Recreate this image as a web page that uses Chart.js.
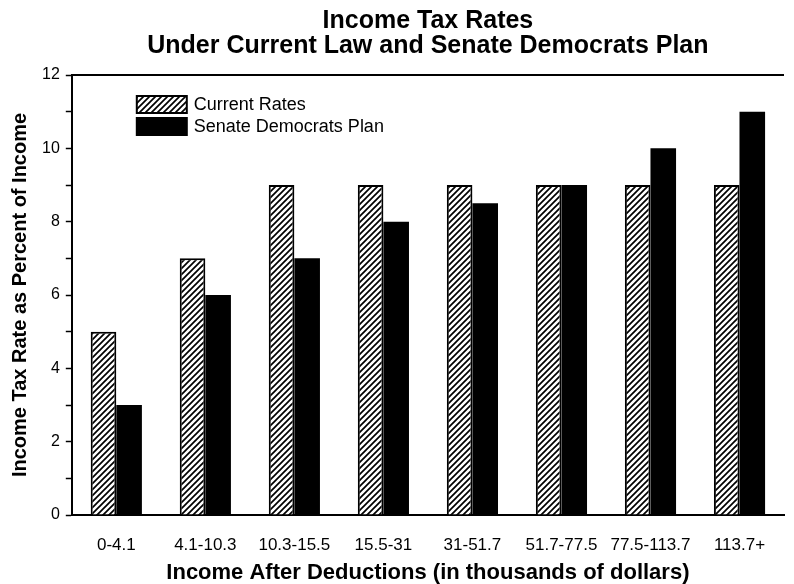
<!DOCTYPE html>
<html>
<head>
<meta charset="utf-8">
<script src="https://cdn.jsdelivr.net/npm/chart.js@4/dist/chart.umd.min.js"></script>
<style>
  html, body { margin: 0; padding: 0; background: #fff; }
  #wrap { width: 794px; height: 584px; }
</style>
</head>
<body>
<div id="wrap"><canvas id="taxChart" width="794" height="584"></canvas></div>
<script>
const brackets = ["0-4.1", "4.1-10.3", "10.3-15.5", "15.5-31", "31-51.7", "51.7-77.5", "77.5-113.7", "113.7+"];
const currentRates = [5, 7, 9, 9, 9, 9, 9, 9];
const senatePlan = [3, 6, 7, 8, 8.5, 9, 10, 11];
const yTicks = [0, 2, 4, 6, 8, 10, 12];

const FONT = "'Liberation Sans', Arial, Helvetica, sans-serif";
Chart.defaults.font.family = FONT;
Chart.defaults.color = "#000";

// diagonal hatch used for the "current rates" bars
function makeHatch() {
  const c = document.createElement("canvas");
  c.width = 6; c.height = 6;
  const g = c.getContext("2d");
  g.fillStyle = "#fff";
  g.fillRect(0, 0, 6, 6);
  g.strokeStyle = "#000";
  g.lineWidth = 1.7;
  g.beginPath();
  g.moveTo(-1, 7); g.lineTo(7, -1);
  g.moveTo(-4, 4); g.lineTo(4, -4);
  g.moveTo(2, 10); g.lineTo(10, 2);
  g.stroke();
  return g.createPattern(c, "repeat");
}
const hatch = makeHatch();

// legend box drawn inside the plot, plus the top frame line
const insideLegend = {
  id: "insideLegend",
  afterDraw(chart) {
    const { ctx, chartArea } = chart;
    ctx.save();
    ctx.strokeStyle = "#000";
    ctx.lineWidth = 2;
    ctx.beginPath();
    ctx.moveTo(chartArea.left, chartArea.top);
    ctx.lineTo(chartArea.right, chartArea.top);
    ctx.stroke();

    const x = chartArea.left + 65;
    let y = chartArea.top + 21;
    chart.data.datasets.forEach(function (ds) {
      ctx.fillStyle = ds.backgroundColor;
      ctx.fillRect(x, y, 50, 17);
      ctx.lineWidth = 2;
      ctx.strokeStyle = "#000";
      ctx.strokeRect(x, y, 50, 17);
      ctx.fillStyle = "#000";
      ctx.font = "18px " + FONT;
      ctx.textBaseline = "middle";
      ctx.fillText(ds.label, x + 57, y + 9);
      y += 22;
    });
    ctx.restore();
  }
};

new Chart(document.getElementById("taxChart"), {
  type: "bar",
  data: {
    labels: brackets,
    datasets: [
      {
        label: "Current Rates",
        data: currentRates,
        backgroundColor: hatch,
        borderColor: "#000",
        borderWidth: 2,
        borderSkipped: "bottom"
      },
      {
        label: "Senate Democrats Plan",
        data: senatePlan,
        backgroundColor: "#000",
        borderColor: "#000",
        borderWidth: 0
      }
    ]
  },
  options: {
    responsive: false,
    animation: false,
    layout: { padding: { top: 9, right: 10, left: 4, bottom: 0 } },
    datasets: {
      bar: { barPercentage: 1, categoryPercentage: 0.575 }
    },
    plugins: {
      legend: { display: false },
      tooltip: { enabled: false },
      title: {
        display: true,
        fullSize: false,
        text: ["Income Tax Rates", "Under Current Law and Senate Democrats Plan"],
        font: { size: 25, weight: "bold", lineHeight: 1.0 },
        color: "#000",
        padding: { top: 0, bottom: 16 }
      }
    },
    scales: {
      x: {
        grid: { display: false },
        border: { display: true, color: "#000", width: 2 },
        ticks: { font: { size: 17, lineHeight: 1.0 }, padding: 14, maxRotation: 0 },
        title: {
          display: true,
          text: "Income After Deductions (in thousands of dollars)",
          font: { size: 22, weight: "bold", lineHeight: 1.0 },
          padding: { top: -6, bottom: 0 }
        }
      },
      y: {
        min: 0,
        max: 12,
        ticks: {
          stepSize: 1,
          font: { size: 16 },
          padding: 6,
          callback: function (v) { return yTicks.includes(v) ? v : ""; }
        },
        grid: { drawOnChartArea: false, drawTicks: true, tickLength: 6, color: "#000", tickWidth: 1.5 },
        border: { display: true, color: "#000", width: 2 },
        title: {
          display: true,
          text: "Income Tax Rate as Percent of Income",
          font: { size: 20, weight: "bold" },
          padding: { bottom: 4 }
        }
      }
    }
  },
  plugins: [insideLegend]
});
</script>
</body>
</html>
